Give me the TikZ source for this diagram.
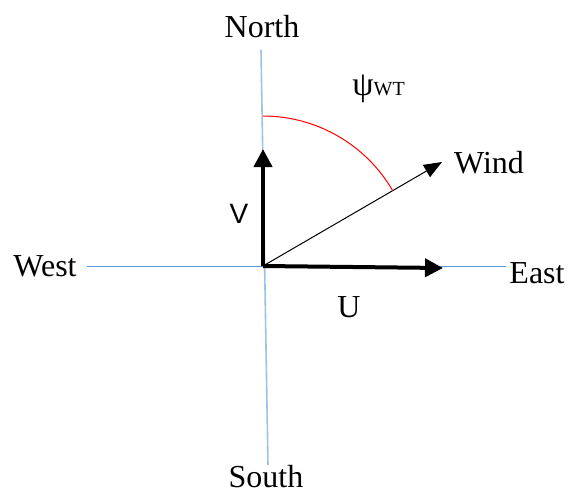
\documentclass[tikz,border=0pt]{standalone}
\usepackage{fontspec}
\setmainfont{Liberation Serif}
\newfontfamily\labelsans{Liberation Sans}
\usepackage{tikz}
\usetikzlibrary{arrows.meta, calc}
\definecolor{axisblue}{RGB}{91,155,213}
\definecolor{axislight}{RGB}{157,195,230}

\begin{document}
\begin{tikzpicture}[x=0.5pt, y=-0.5pt,
  compass/.style={font=\fontsize{16}{16}\selectfont, anchor=base, inner sep=0pt},
  vec/.style={line width=2pt, -{Triangle[length=9pt, width=9pt]}},
  windvec/.style={line width=0.5pt, -{Triangle[length=9pt, width=7pt]}},
  >={Stealth}]
  \useasboundingbox (0,0) rectangle (568,493);
  % axes
  \coordinate (o) at (263,266);
  \coordinate (ntop) at (261,50);
  \coordinate (sbot) at (268,465);
  \coordinate (wend) at (87,266);
  \coordinate (eend) at (506,266);
  \draw[axislight, line width=0.8pt] (ntop) -- (sbot);
  \draw[axisblue, line width=0.5pt] (wend) -- (eend);
  % labels
  \node[compass] (north) at (262,37) {North};
  \node[compass] (south) at (266,487) {South};
  \node[compass] (west) at (45,276) {West};
  \node[compass] (east) at (537,283) {East};
  \node[compass] (wind) at (489,173) {Wind};
  \node[compass] (ulab) at (349,317) {U};
  \node[compass, font=\labelsans\fontsize{14}{14}\selectfont] (vlab) at (239,223) {V};
  \node[compass, anchor=base west, font=\fontsize{17}{17}\selectfont] (psi) at (352,95)
    {ψ{\fontsize{10}{10}\selectfont WT}};
  % vectors
  \coordinate (vtip) at (263,149);
  \coordinate (utip) at (443,268);
  \coordinate (wtip) at (442,162);
  \draw[vec] (o) -- (vtip);
  \draw[vec] (o) -- (utip);
  \draw[windvec] (o) -- (wtip);
  % angle
  \draw[red, line width=0.5pt] ($(o)+(0,-150)$) arc[start angle=-90, end angle=-30, radius=150];
\end{tikzpicture}
\end{document}
